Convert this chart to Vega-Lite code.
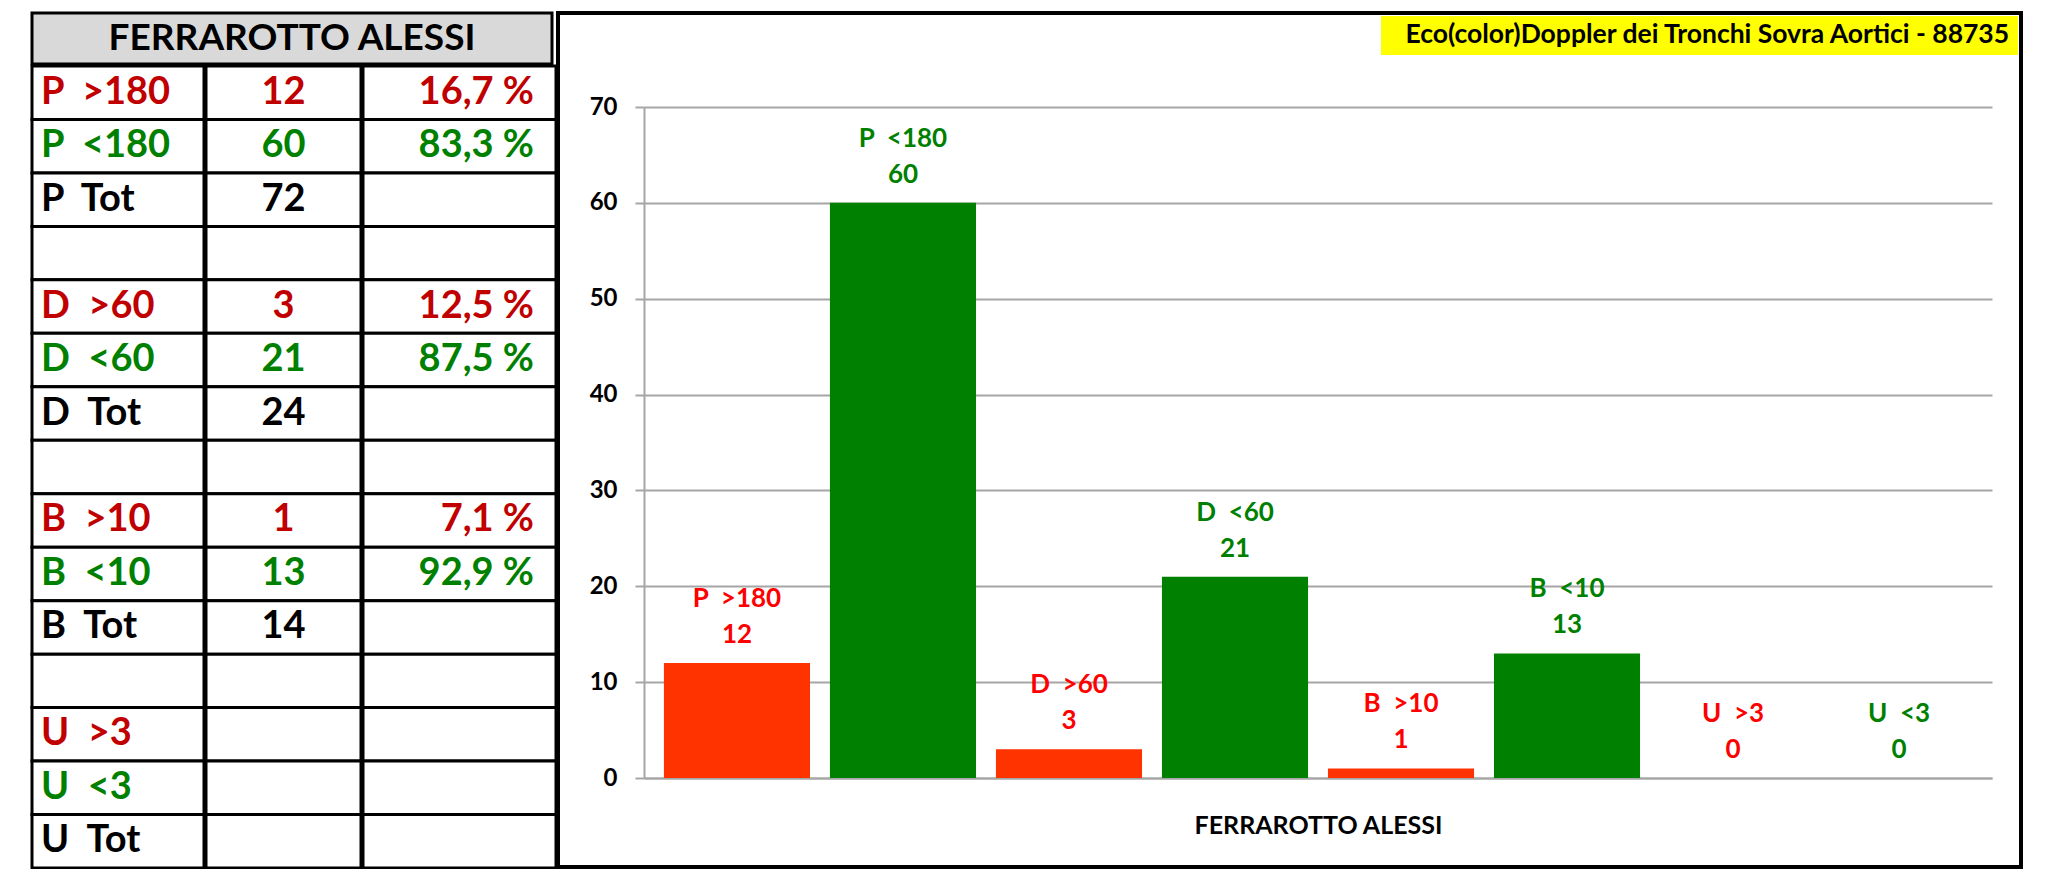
{
  "$schema": "https://vega.github.io/schema/vega-lite/v6.json",
  "background": "white",
  "padding": {"left": 30, "top": 11, "right": 0, "bottom": 0},
  "config": {
    "font": "Lato",
    "axis": {"minExtent": 0}
  },
  "datasets": {
    "table": [
      {"r": 1, "a": "P\u00a0\u00a0>180", "b": "12", "c": "16,7 %", "k": "red"},
      {"r": 2, "a": "P\u00a0\u00a0<180", "b": "60", "c": "83,3 %", "k": "green"},
      {"r": 3, "a": "P\u00a0\u00a0Tot", "b": "72", "c": "", "k": "black"},
      {"r": 4, "a": "", "b": "", "c": "", "k": "black"},
      {"r": 5, "a": "D\u00a0\u00a0>60", "b": "3", "c": "12,5 %", "k": "red"},
      {"r": 6, "a": "D\u00a0\u00a0<60", "b": "21", "c": "87,5 %", "k": "green"},
      {"r": 7, "a": "D\u00a0\u00a0Tot", "b": "24", "c": "", "k": "black"},
      {"r": 8, "a": "", "b": "", "c": "", "k": "black"},
      {"r": 9, "a": "B\u00a0\u00a0>10", "b": "1", "c": "7,1 %", "k": "red"},
      {"r": 10, "a": "B\u00a0\u00a0<10", "b": "13", "c": "92,9 %", "k": "green"},
      {"r": 11, "a": "B\u00a0\u00a0Tot", "b": "14", "c": "", "k": "black"},
      {"r": 12, "a": "", "b": "", "c": "", "k": "black"},
      {"r": 13, "a": "U\u00a0\u00a0>3", "b": "", "c": "", "k": "red"},
      {"r": 14, "a": "U\u00a0\u00a0<3", "b": "", "c": "", "k": "green"},
      {"r": 15, "a": "U\u00a0\u00a0Tot", "b": "", "c": "", "k": "black"}
    ],
    "bars": [
      {"cat": "P\u00a0\u00a0>180", "n": 12, "k": "over"},
      {"cat": "P\u00a0\u00a0<180", "n": 60, "k": "under"},
      {"cat": "D\u00a0\u00a0>60", "n": 3, "k": "over"},
      {"cat": "D\u00a0\u00a0<60", "n": 21, "k": "under"},
      {"cat": "B\u00a0\u00a0>10", "n": 1, "k": "over"},
      {"cat": "B\u00a0\u00a0<10", "n": 13, "k": "under"},
      {"cat": "U\u00a0\u00a0>3", "n": 0, "k": "over"},
      {"cat": "U\u00a0\u00a0<3", "n": 0, "k": "under"}
    ]
  },
  "spacing": -4.5,
  "resolve": {
    "scale": {"color": "independent", "x": "independent", "y": "independent", "shape": "independent", "fill": "independent"},
    "legend": {"shape": "independent", "color": "independent", "fill": "independent"}
  },
  "hconcat": [
    {
      "spacing": -3,
      "vconcat": [
        {
          "width": 520,
          "height": 51,
          "view": {"fill": "#d9d9d9", "stroke": "black", "strokeWidth": 3},
          "data": {"values": [{"h": "FERRAROTTO ALESSI"}]},
          "mark": {"type": "text", "font": "Lato", "fontWeight": "bold", "fontSize": 37, "fill": "black", "baseline": "middle", "align": "center"},
          "encoding": {"text": {"field": "h"}}
        },
        {
          "spacing": -3,
          "hconcat": [
            {
              "width": 172,
              "height": 802,
              "view": {"stroke": null},
              "data": {"name": "table"},
              "encoding": {
                "y": {"field": "r", "type": "ordinal", "scale": {"paddingInner": 0, "paddingOuter": 0}, "axis": null}
              },
              "layer": [
                {"mark": {"type": "rect", "fill": "white", "stroke": "black", "strokeWidth": 3}},
                {
                  "mark": {"type": "text", "font": "Lato", "fontWeight": "bold", "fontSize": 38, "baseline": "middle", "align": "left", "dx": -77},
                  "encoding": {
                    "text": {"field": "a"},
                    "color": {"field": "k", "type": "nominal", "scale": {"domain": ["red", "green", "black"], "range": ["#c00000", "#008000", "#000000"]}, "legend": null}
                  }
                }
              ]
            },
            {
              "width": 155,
              "height": 802,
              "view": {"stroke": null},
              "data": {"name": "table"},
              "encoding": {
                "y": {"field": "r", "type": "ordinal", "scale": {"paddingInner": 0, "paddingOuter": 0}, "axis": null}
              },
              "layer": [
                {"mark": {"type": "rect", "fill": "white", "stroke": "black", "strokeWidth": 3}},
                {
                  "mark": {"type": "text", "font": "Lato", "fontWeight": "bold", "fontSize": 38, "baseline": "middle", "align": "center"},
                  "encoding": {
                    "text": {"field": "b"},
                    "color": {"field": "k", "type": "nominal", "scale": {"domain": ["red", "green", "black"], "range": ["#c00000", "#008000", "#000000"]}, "legend": null}
                  }
                }
              ]
            },
            {
              "width": 193,
              "height": 802,
              "view": {"stroke": null},
              "data": {"name": "table"},
              "encoding": {
                "y": {"field": "r", "type": "ordinal", "scale": {"paddingInner": 0, "paddingOuter": 0}, "axis": null}
              },
              "layer": [
                {"mark": {"type": "rect", "fill": "white", "stroke": "black", "strokeWidth": 3}},
                {
                  "mark": {"type": "text", "font": "Lato", "fontWeight": "bold", "fontSize": 38, "baseline": "middle", "align": "right", "dx": 74.5},
                  "encoding": {
                    "text": {"field": "c"},
                    "color": {"field": "k", "type": "nominal", "scale": {"domain": ["red", "green", "black"], "range": ["#c00000", "#008000", "#000000"]}, "legend": null}
                  }
                }
              ]
            }
          ]
        }
      ]
    },
    {
      "width": 1463,
      "height": 854,
      "view": {"fill": "white", "stroke": "black", "strokeWidth": 4},
      "resolve": {"legend": {"shape": "independent"}},
      "layer": [
        {
          "data": {"name": "bars"},
          "mark": {"type": "bar"},
          "encoding": {
            "x": {"field": "cat", "type": "nominal", "sort": null,
                  "scale": {"range": [86, 1434], "paddingInner": 0.12, "paddingOuter": 0.12},
                  "axis": {"title": "FERRAROTTO ALESSI", "orient": "bottom", "offset": -89, "labels": false, "ticks": false, "grid": false,
                           "domainColor": "#a6a6a6", "domainWidth": 2, "minExtent": 0,
                           "titleFont": "Lato", "titleFontWeight": "bold", "titleFontSize": 25, "titleColor": "black", "titlePadding": 35}},
            "y": {"field": "n", "type": "quantitative",
                  "scale": {"domain": [0, 70], "range": [765, 94], "nice": false, "zero": true},
                  "axis": {"title": null, "values": [0, 10, 20, 30, 40, 50, 60, 70], "offset": -86, "grid": true,
                           "gridColor": "#a6a6a6", "gridWidth": 2, "domainColor": "#a6a6a6", "domainWidth": 2,
                           "tickColor": "#a6a6a6", "tickWidth": 2, "tickSize": 9, "minExtent": 0,
                           "labelFont": "Lato", "labelFontWeight": "bold", "labelFontSize": 24, "labelColor": "black", "labelPadding": 18}},
            "fill": {"field": "k", "type": "nominal", "scale": {"domain": ["over", "under"], "range": ["#ff3300", "#008000"]}, "legend": null}
          }
        },
        {
          "data": {"name": "bars"},
          "mark": {"type": "text", "font": "Lato", "fontWeight": "bold", "fontSize": 26, "baseline": "alphabetic", "align": "center", "dy": -20},
          "encoding": {
            "x": {"field": "cat", "type": "nominal", "sort": null},
            "y": {"field": "n", "type": "quantitative"},
            "text": {"field": "n"},
            "color": {"field": "k", "type": "nominal", "scale": {"domain": ["over", "under"], "range": ["#ff0000", "#008000"]}, "legend": null}
          }
        },
        {
          "data": {"name": "bars"},
          "mark": {"type": "text", "font": "Lato", "fontWeight": "bold", "fontSize": 26, "baseline": "alphabetic", "align": "center", "dy": -56},
          "encoding": {
            "x": {"field": "cat", "type": "nominal", "sort": null},
            "y": {"field": "n", "type": "quantitative"},
            "text": {"field": "cat"},
            "color": {"field": "k", "type": "nominal", "scale": {"domain": ["over", "under"], "range": ["#ff0000", "#008000"]}, "legend": null}
          }
        },
        {
          "data": {"values": [{"t": "Eco(color)Doppler dei Tronchi Sovra Aortici - 88735"}]},
          "mark": {"type": "point", "opacity": 0},
          "encoding": {
            "shape": {"field": "t", "type": "nominal",
                      "legend": {"title": null, "orient": "top-right", "offset": 3, "fillColor": "#ffff00", "padding": 6,
                                 "labelFont": "Lato", "labelFontWeight": "bold", "labelFontSize": 26.5, "labelColor": "black",
                                 "labelLimit": 2000, "labelOffset": -8, "symbolSize": 0, "symbolStrokeWidth": 0, "symbolOpacity": 0}}
          }
        }
      ]
    }
  ]
}
